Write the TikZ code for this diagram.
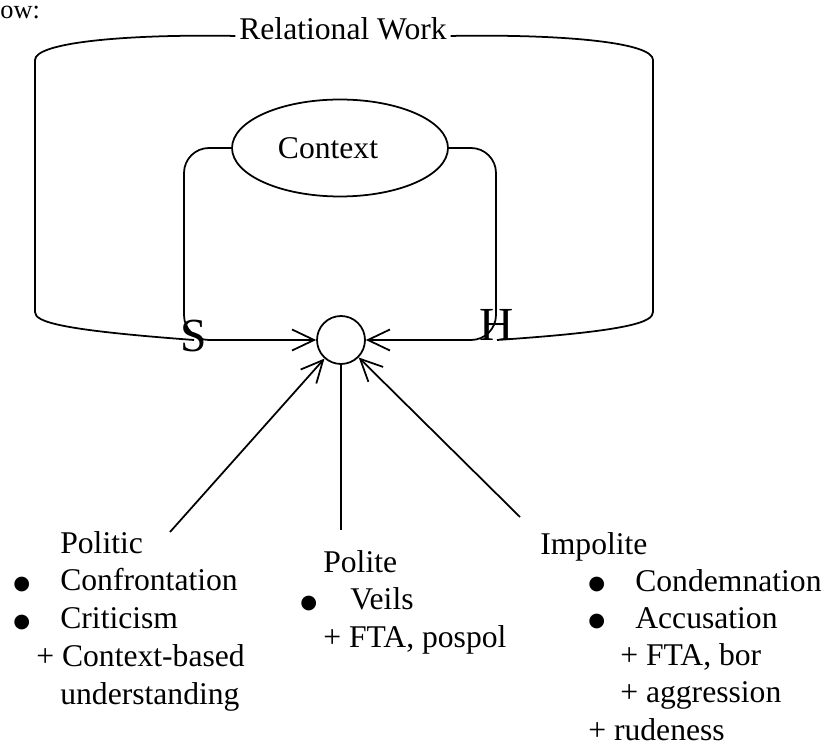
\documentclass[tikz,border=0pt]{standalone}
\usepackage{fontspec}
\setmainfont{Liberation Serif}
\newfontfamily\bulletfont{DejaVu Sans}
\usetikzlibrary{arrows.meta, shapes.geometric}

\newcommand{\bigbullet}{\raisebox{0.03cm}{\fontsize{11}{13}\bulletfont ●}}

\begin{document}
\begin{tikzpicture}[
x=0.02cm, y=-0.02cm,
txt/.style={inner sep=0pt, font=\fontsize{18}{21.6}\selectfont},
bigtxt/.style={inner sep=0pt, font=\fontsize{27}{30}\selectfont},
frame/.style={line width=1pt},
arrow/.style={-{Straight Barb[length=0.44cm, width=0.42cm]}, line width=1pt}
]
\useasboundingbox (0,0) rectangle (825,746);

\node[inner sep=0pt, font=\fontsize{15}{16}\selectfont, anchor=base west] (intro_tail) at (0,19) {ow:};
\node[txt, anchor=base, inner sep=2pt] (rel_work) at (343,40) {Relational Work};
\node[txt, draw, ellipse, line width=1pt, minimum width=4.32cm, minimum height=1.94cm] (ctx) at (340,148) {Context\hspace*{0.48cm}};
\node[draw, circle, minimum size=0.96cm, line width=1pt] (hub) at (341,340) {};
\node[bigtxt] (spk) at (194,336) {S};
\node[bigtxt] (hrr) at (497,325) {H};

\node[txt, anchor=base west] (grp_politic) at (13,553) {\begin{tabular}[t]{@{}l@{}}
\hspace*{0.94cm}Politic\\
\makebox[0.94cm][l]{\bigbullet}Confrontation\\
\makebox[0.94cm][l]{\bigbullet}Criticism\\
\hspace*{0.46cm}+ Context-based\\
\hspace*{0.94cm}understanding
\end{tabular}};
\node[txt, anchor=base west] (grp_polite) at (300,572) {\begin{tabular}[t]{@{}l@{}}
\hspace*{0.46cm}Polite\\
\makebox[1.0cm][l]{\bigbullet}Veils\\
\hspace*{0.46cm}+ FTA, pospol
\end{tabular}};
\node[txt, anchor=base west, font=\fontsize{18}{21.2}\selectfont] (grp_impolite) at (540,554) {\begin{tabular}[t]{@{}l@{}}
Impolite\\
\hspace*{0.96cm}\makebox[0.94cm][l]{\bigbullet}Condemnation\\
\hspace*{0.96cm}\makebox[0.94cm][l]{\bigbullet}Accusation\\
\hspace*{1.6cm}+ FTA, bor\\
\hspace*{1.6cm}+ aggression\\
\hspace*{0.96cm}+ rudeness
\end{tabular}};

\coordinate (politic_tail) at (170,532);
\coordinate (polite_tail) at (341,530);
\coordinate (impolite_tail) at (520,517);

\draw[frame] (rel_work.mid west) .. controls (130,34) and (35,42) .. (35,60) -- (35,312) .. controls (35,322) and (60,330) .. (spk.center |- hub.west);
\draw[frame] (rel_work.mid east) .. controls (560,34) and (653,42) .. (653,60) -- (653,312) .. controls (653,322) and (630,331) .. (hrr.center |- hub.east);

\draw[arrow, rounded corners=0.5cm] (ctx.west) -| (184,340) -- (hub);
\draw[arrow, rounded corners=0.5cm] (ctx.east) -| (496,340) -- (hub);

\draw[arrow] (politic_tail) -- (hub);
\draw[frame] (polite_tail) -- (hub);
\draw[arrow] (impolite_tail) -- (hub);

\end{tikzpicture}
\end{document}
